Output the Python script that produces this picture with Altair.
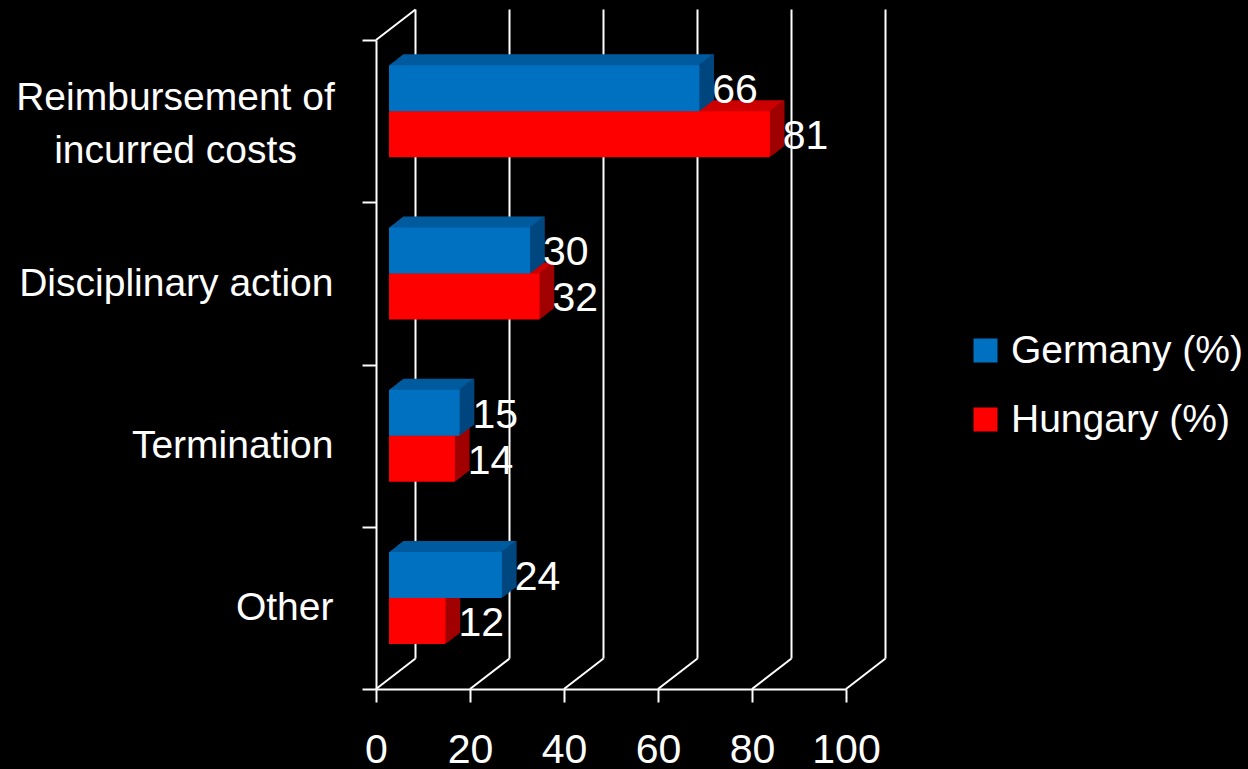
import altair as alt
import pandas as pd

# ---- data ----
categories = ["Reimbursement of incurred costs", "Disciplinary action", "Termination", "Other"]
germany = [66, 30, 15, 24]
hungary = [81, 32, 14, 12]
series_names = ["Germany (%)", "Hungary (%)"]
x_ticks = [0, 20, 40, 60, 80, 100]

rows = []
for c, g, h in zip(categories, germany, hungary):
    rows.append({"category": c, "series": series_names[0], "value": g})
    rows.append({"category": c, "series": series_names[1], "value": h})
df = pd.DataFrame(rows)
grid_df = pd.DataFrame({"v": x_ticks})

# ---- styles ----
FONT = "Liberation Sans, Arial, sans-serif"
FS_CAT = 39
FS_NUM = 41
BLUE, RED = "#0070C0", "#FF0000"
TOP = {"Germany (%)": "#005A9E", "Hungary (%)": "#CC0000"}
SIDE = {"Germany (%)": "#00477F", "Hungary (%)": "#A00000"}
DX, DY = 39.5, -30.5   # depth of the back wall (px)
BX, BY = 13, -10       # depth of the bar front faces (px)
EX, EY = 14, -11       # bar thickness (px)
BAR_H = 46             # bar height (px)
SHIFT = {"Germany (%)": -BAR_H / 2, "Hungary (%)": BAR_H / 2}
N = 14                 # extrusion steps

xscale = alt.Scale(domain=[0, 100], nice=False, zero=True)
yscale = alt.Scale(domain=categories, paddingInner=0, paddingOuter=0)

is_long = "datum.value == 'Reimbursement of incurred costs'"

X_AX = alt.Axis(values=x_ticks, title=None, grid=False, domainColor="white", domainWidth=2,
                tickColor="white", tickWidth=2, tickSize=13, labelColor="white",
                labelFont=FONT, labelFontSize=FS_NUM, labelPadding=28, labelFlush=False,
                labelOverlap=False)
Y_AX = alt.Axis(title=None, grid=False, domainColor="white", domainWidth=2,
                tickColor="white", tickWidth=2, tickSize=14, tickBand="extent",
                labelColor="white", labelFont=FONT, labelFontSize=FS_CAT,
                labelLineHeight=53, labelLimit=500,
                labelAlign={"condition": {"test": is_long, "value": "center"}, "value": "right"},
                labelPadding={"condition": {"test": is_long, "value": 187}, "value": 29},
                labelOffset={"condition": {"test": is_long, "value": -24}, "value": 0},
                labelExpr=is_long + " ? ['Reimbursement of', 'incurred costs'] : datum.label")

X = alt.X("value:Q", scale=xscale, axis=X_AX)
Y = alt.Y("category:N", scale=yscale, sort=categories, axis=Y_AX)

layers = []

# back wall gridlines
layers.append(
    alt.Chart(grid_df).mark_rule(color="white", strokeWidth=2, xOffset=DX,
                                 yOffset=DY, y2Offset=DY)
    .encode(x=alt.X("v:Q", scale=xscale, axis=X_AX), y=alt.value(0), y2=alt.value("height"))
)
# floor diagonals
layers.append(
    alt.Chart(grid_df).mark_rule(color="white", strokeWidth=2, x2Offset=DX, y2Offset=DY)
    .encode(x=alt.X("v:Q", scale=xscale, axis=X_AX), x2="v:Q",
            y=alt.value("height"), y2=alt.value("height"))
)
# top-left wall diagonal
layers.append(
    alt.Chart(grid_df).transform_filter("datum.v == 0")
    .mark_rule(color="white", strokeWidth=2, x2Offset=DX, y2Offset=DY)
    .encode(x=alt.X("v:Q", scale=xscale, axis=X_AX), x2="v:Q",
            y=alt.value(0), y2=alt.value(0))
)


def series_chart(s):
    return alt.Chart(df).transform_filter(alt.datum.series == s)


# bar extrusion (top faces), Hungary first so Germany's faces sit over it
for s in ["Hungary (%)", "Germany (%)"]:
    for k in range(1, N + 1):
        ox = BX + EX * k / N
        oy = BY + EY * k / N + SHIFT[s]
        layers.append(
            series_chart(s).mark_bar(height=BAR_H, color=TOP[s], xOffset=ox, x2Offset=ox,
                                     yOffset=oy, y2Offset=oy)
            .encode(x=X, y=Y)
        )
# bar side faces
for s in ["Hungary (%)", "Germany (%)"]:
    for k in range(1, N + 1):
        ox = BX + EX * k / N
        oy = BY + EY * k / N + SHIFT[s]
        layers.append(
            series_chart(s).mark_bar(height=BAR_H, filled=False, stroke=SIDE[s],
                                     strokeWidth=1.6, xOffset=ox, x2Offset=ox,
                                     yOffset=oy, y2Offset=oy)
            .encode(x=X, x2="value:Q", y=Y)
        )
# front faces (carry the legend)
for s in ["Hungary (%)", "Germany (%)"]:
    oy = BY + SHIFT[s]
    layers.append(
        series_chart(s).mark_bar(height=BAR_H, xOffset=BX, x2Offset=BX,
                                 yOffset=oy, y2Offset=oy)
        .encode(x=X, y=Y,
                color=alt.Color("series:N", sort=series_names,
                                scale=alt.Scale(domain=series_names, range=[BLUE, RED]),
                                legend=alt.Legend(title=None, orient="none", legendX=590,
                                                  legendY=291, symbolType="square",
                                                  symbolSize=576, symbolStrokeWidth=0,
                                                  symbolOpacity=1, labelColor="white",
                                                  labelFont=FONT, labelFontSize=FS_CAT,
                                                  labelOffset=6, rowPadding=29,
                                                  labelLimit=500)))
    )
# value labels
for s in series_names:
    layers.append(
        series_chart(s).mark_text(align="left", baseline="middle", dx=BX + 13,
                                  dy=BY + SHIFT[s] + 3, color="white", font=FONT,
                                  fontSize=FS_NUM)
        .encode(x=X, y=Y, text="value:Q")
    )

chart = (
    alt.layer(*layers)
    .properties(width=470, height=649,
                padding={"left": 376, "top": 40, "right": 402, "bottom": 80},
                autosize=alt.AutoSizeParams(type="none"))
    .configure(background="#000000", font=FONT)
    .configure_view(stroke=None)
)

chart.save("out.html", embed_options={"renderer": "svg", "actions": False})
